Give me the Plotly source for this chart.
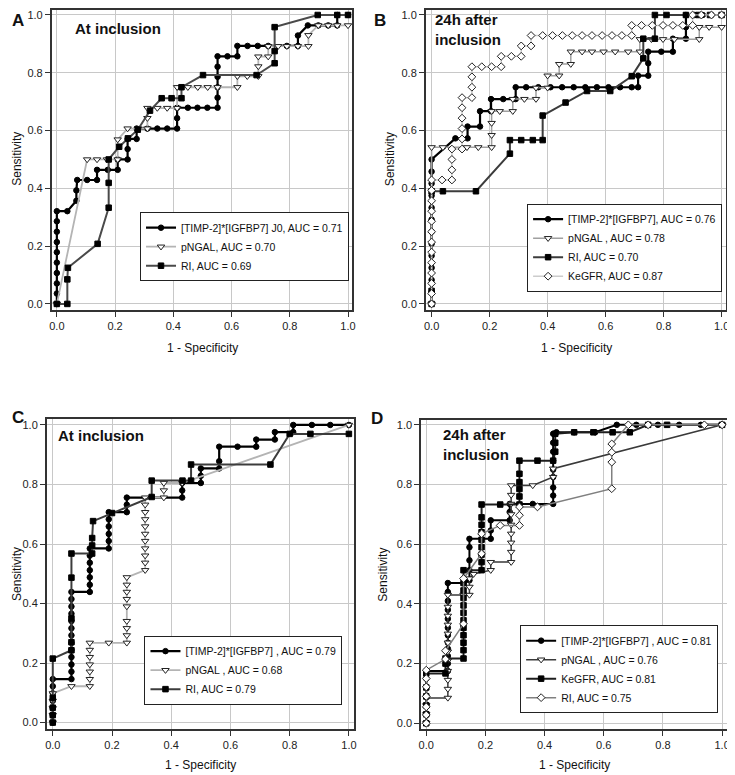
import plotly.graph_objects as go

# ---------------- Panel A : At inclusion ----------------
A_timp_fpr = [0, 0, 0, 0, 0, 0, 0, 0, 0, 0, 0.036, 0.067, 0.067, 0.07, 0.104, 0.138, 0.138, 0.175, 0.209, 0.209,
              0.243, 0.243, 0.243, 0.274, 0.274, 0.311, 0.345, 0.379, 0.413, 0.413, 0.413, 0.45, 0.483, 0.517, 0.552,
              0.552, 0.552, 0.552, 0.552, 0.552, 0.586, 0.62, 0.62, 0.655, 0.69, 0.726, 0.79, 0.828, 0.828, 0.862,
              0.898, 0.932, 0.963, 0.963, 1.0]
A_timp_tpr = [0, 0.036, 0.071, 0.107, 0.143, 0.179, 0.214, 0.25, 0.286, 0.321, 0.321, 0.357, 0.393, 0.429, 0.429,
              0.429, 0.464, 0.464, 0.464, 0.5, 0.5, 0.536, 0.571, 0.571, 0.607, 0.607, 0.607, 0.607, 0.607, 0.643,
              0.679, 0.679, 0.679, 0.679, 0.679, 0.714, 0.75, 0.786, 0.821, 0.857, 0.857, 0.857, 0.893, 0.893, 0.893,
              0.893, 0.893, 0.893, 0.929, 0.964, 0.964, 0.964, 0.964, 1.0, 1.0]
A_png_fpr = [0, 0.104, 0.138, 0.172, 0.209, 0.209, 0.243, 0.28, 0.311, 0.311, 0.311, 0.345, 0.379, 0.413, 0.413,
             0.45, 0.484, 0.518, 0.552, 0.62, 0.62, 0.654, 0.692, 0.692, 0.692, 0.726, 0.726, 0.76, 0.79, 0.828,
             0.864, 0.864, 0.898, 0.932, 0.963, 1.0]
A_png_tpr = [0, 0.5, 0.5, 0.5, 0.5, 0.569, 0.607, 0.607, 0.607, 0.643, 0.678, 0.678, 0.678, 0.678, 0.75, 0.75,
             0.75, 0.75, 0.75, 0.75, 0.788, 0.788, 0.788, 0.822, 0.856, 0.856, 0.892, 0.892, 0.892, 0.892, 0.892,
             0.93, 0.964, 0.964, 0.964, 0.964]
A_ri_fpr = [0, 0.036, 0.036, 0.038, 0.14, 0.178, 0.178, 0.178, 0.214, 0.244, 0.278, 0.32, 0.36, 0.394, 0.428,
            0.428, 0.502, 0.686, 0.748, 0.748, 0.748, 0.896, 0.963, 1.0]
A_ri_tpr = [0, 0, 0.085, 0.125, 0.208, 0.333, 0.419, 0.5, 0.544, 0.573, 0.603, 0.669, 0.712, 0.712, 0.712, 0.75,
            0.792, 0.792, 0.833, 0.875, 0.958, 1.0, 1.0, 1.0]

# ---------------- Panel B : 24h after inclusion ----------------
B_timp_fpr = [0, 0, 0, 0, 0, 0, 0, 0, 0, 0, 0, 0, 0, 0.082, 0.124, 0.124, 0.167, 0.167, 0.205, 0.205, 0.247, 0.29,
              0.29, 0.326, 0.368, 0.41, 0.45, 0.49, 0.53, 0.57, 0.61, 0.65, 0.69, 0.712, 0.712, 0.747, 0.747, 0.747,
              0.792, 0.832, 0.832, 0.877, 0.877, 0.877, 0.906, 0.935, 0.965, 1.0]
B_timp_tpr = [0, 0.042, 0.083, 0.125, 0.167, 0.208, 0.25, 0.292, 0.333, 0.375, 0.417, 0.458, 0.5, 0.573, 0.573,
              0.614, 0.614, 0.667, 0.667, 0.709, 0.709, 0.709, 0.75, 0.75, 0.75, 0.75, 0.75, 0.75, 0.75, 0.75, 0.75,
              0.75, 0.75, 0.75, 0.79, 0.79, 0.833, 0.873, 0.873, 0.873, 0.918, 0.918, 0.958, 1.0, 1.0, 1.0, 1.0, 1.0]
B_png_fpr = [0, 0, 0.039, 0.122, 0.161, 0.207, 0.207, 0.207, 0.207, 0.235, 0.28, 0.28, 0.32, 0.36, 0.36, 0.4,
             0.4, 0.44, 0.44, 0.48, 0.48, 0.519, 0.553, 0.593, 0.633, 0.678, 0.718, 0.718, 0.758, 0.798, 0.837,
             0.923, 0.923, 0.957, 1.0]
B_png_tpr = [0, 0.542, 0.542, 0.542, 0.542, 0.542, 0.584, 0.626, 0.667, 0.667, 0.667, 0.709, 0.709, 0.709, 0.748,
             0.748, 0.79, 0.79, 0.83, 0.83, 0.873, 0.873, 0.873, 0.873, 0.873, 0.873, 0.873, 0.916, 0.916, 0.916,
             0.916, 0.916, 0.958, 0.958, 0.958]
B_ri_fpr = [0, 0, 0, 0.039, 0.153, 0.27, 0.27, 0.309, 0.349, 0.383, 0.383, 0.462, 0.536, 0.616, 0.69, 0.73, 0.73,
            0.77, 0.77, 0.81, 0.877, 0.92, 0.96, 1.0]
B_ri_tpr = [0, 0.045, 0.39, 0.39, 0.39, 0.52, 0.567, 0.567, 0.567, 0.567, 0.652, 0.697, 0.737, 0.737, 0.788, 0.85,
            0.918, 0.918, 1.0, 1.0, 1.0, 1.0, 1.0, 1.0]
B_keg_fpr = [0, 0, 0, 0, 0, 0, 0, 0, 0, 0, 0, 0, 0, 0.036, 0.07, 0.07, 0.07, 0.07, 0.105, 0.105, 0.105, 0.105,
             0.105, 0.105, 0.139, 0.139, 0.139, 0.139, 0.173, 0.207, 0.24, 0.24, 0.275, 0.309, 0.309, 0.343, 0.343,
             0.383, 0.417, 0.451, 0.485, 0.519, 0.553, 0.588, 0.622, 0.656, 0.69, 0.69, 0.724, 0.761, 0.798, 0.832,
             0.866, 0.9, 0.9, 0.93, 0.965, 1.0]
B_keg_tpr = [0, 0.036, 0.071, 0.107, 0.143, 0.179, 0.214, 0.25, 0.286, 0.321, 0.357, 0.393, 0.429, 0.429, 0.429,
             0.464, 0.5, 0.536, 0.536, 0.571, 0.607, 0.643, 0.679, 0.714, 0.714, 0.75, 0.786, 0.821, 0.821, 0.821,
             0.821, 0.857, 0.857, 0.857, 0.893, 0.893, 0.929, 0.929, 0.929, 0.929, 0.929, 0.929, 0.929, 0.929,
             0.929, 0.929, 0.929, 0.964, 0.964, 0.964, 0.964, 0.964, 0.964, 0.964, 1.0, 1.0, 1.0, 1.0]

# ---------------- Panel C : At inclusion ----------------
C_timp_fpr = [0, 0, 0, 0, 0, 0, 0, 0.063, 0.063, 0.063, 0.063, 0.063, 0.063, 0.063, 0.063, 0.063, 0.063, 0.063,
              0.063, 0.063, 0.125, 0.125, 0.125, 0.125, 0.125, 0.125, 0.125, 0.189, 0.189, 0.189, 0.189, 0.189,
              0.189, 0.25, 0.25, 0.25, 0.437, 0.437, 0.437, 0.5, 0.5, 0.5, 0.562, 0.562, 0.562, 0.624, 0.687, 0.687,
              0.75, 0.75, 0.812, 0.812, 0.875, 0.937, 1.0]
C_timp_tpr = [0, 0.024, 0.049, 0.073, 0.098, 0.122, 0.146, 0.146, 0.171, 0.195, 0.22, 0.244, 0.268, 0.293, 0.317,
              0.341, 0.366, 0.39, 0.415, 0.439, 0.439, 0.463, 0.488, 0.512, 0.537, 0.561, 0.585, 0.585, 0.61, 0.634,
              0.659, 0.683, 0.707, 0.707, 0.732, 0.756, 0.756, 0.78, 0.805, 0.805, 0.829, 0.854, 0.854, 0.878,
              0.927, 0.927, 0.927, 0.951, 0.951, 0.976, 0.976, 1.0, 1.0, 1.0, 1.0]
C_png_fpr = [0, 0, 0, 0, 0, 0.063, 0.125, 0.125, 0.125, 0.125, 0.125, 0.125, 0.125, 0.189, 0.25, 0.25, 0.25, 0.25,
             0.25, 0.25, 0.25, 0.25, 0.25, 0.312, 0.312, 0.312, 0.312, 0.312, 0.312, 0.312, 0.312, 0.312, 0.312,
             0.312, 0.375, 0.375, 0.375, 0.437, 1.0]
C_png_tpr = [0, 0.025, 0.048, 0.073, 0.098, 0.122, 0.122, 0.146, 0.171, 0.195, 0.22, 0.244, 0.268, 0.268, 0.268,
             0.293, 0.317, 0.341, 0.39, 0.415, 0.439, 0.463, 0.488, 0.512, 0.537, 0.561, 0.585, 0.61, 0.634, 0.659,
             0.683, 0.707, 0.732, 0.756, 0.756, 0.78, 0.805, 0.805, 1.0]
C_ri_fpr = [0, 0, 0, 0, 0, 0.063, 0.063, 0.063, 0.063, 0.063, 0.133, 0.133, 0.133, 0.136, 0.2, 0.334, 0.334, 0.438,
            0.467, 0.467, 0.735, 0.8, 0.87, 1.0]
C_ri_tpr = [0, 0.025, 0.05, 0.083, 0.215, 0.243, 0.27, 0.35, 0.487, 0.568, 0.568, 0.595, 0.62, 0.677, 0.704, 0.758,
            0.813, 0.813, 0.813, 0.867, 0.867, 0.97, 0.97, 0.97]

# ---------------- Panel D : 24h after inclusion ----------------
D_timp_fpr = [0, 0, 0, 0, 0, 0, 0, 0.073, 0.073, 0.073, 0.073, 0.073, 0.073, 0.073, 0.073, 0.073, 0.073, 0.073,
              0.073, 0.126, 0.146, 0.146, 0.146, 0.146, 0.146, 0.218, 0.218, 0.218, 0.282, 0.282, 0.282, 0.36,
              0.429, 0.429, 0.429, 0.429, 0.429, 0.429, 0.429, 0.429, 0.429, 0.44, 0.5, 0.571, 0.644, 0.71, 0.783,
              0.855, 0.928, 1.0]
D_timp_tpr = [0, 0.03, 0.06, 0.09, 0.12, 0.15, 0.175, 0.175, 0.2, 0.225, 0.25, 0.27, 0.295, 0.32, 0.35, 0.38,
              0.41, 0.44, 0.47, 0.47, 0.479, 0.513, 0.546, 0.59, 0.618, 0.618, 0.646, 0.68, 0.68, 0.708, 0.735, 0.735,
              0.735, 0.763, 0.79, 0.825, 0.85, 0.88, 0.91, 0.94, 0.97, 0.975, 0.975, 0.975, 1.0, 1.0, 1.0, 1.0, 1.0,
              1.0]
D_png_fpr = [0, 0, 0, 0, 0.073, 0.073, 0.073, 0.073, 0.073, 0.073, 0.073, 0.073, 0.073, 0.073, 0.073, 0.073, 0.126,
             0.146, 0.146, 0.146, 0.16, 0.218, 0.218, 0.287, 0.287, 0.287, 0.287, 0.287, 0.287, 0.287, 0.287, 0.287,
             0.36, 0.429, 0.429, 1.0]
D_png_tpr = [0, 0.03, 0.06, 0.085, 0.085, 0.115, 0.145, 0.175, 0.21, 0.24, 0.27, 0.3, 0.33, 0.36, 0.39, 0.43, 0.43,
             0.43, 0.457, 0.485, 0.5, 0.513, 0.54, 0.54, 0.574, 0.605, 0.635, 0.665, 0.7, 0.735, 0.765, 0.797, 0.797,
             0.825, 0.853, 1.0]
D_keg_fpr = [0, 0, 0, 0, 0, 0, 0.065, 0.065, 0.065, 0.126, 0.126, 0.126, 0.126, 0.126, 0.126, 0.126, 0.126, 0.126,
             0.126, 0.126, 0.126, 0.187, 0.187, 0.187, 0.187, 0.187, 0.187, 0.187, 0.187, 0.187, 0.25, 0.315, 0.315,
             0.315, 0.315, 0.315, 0.315, 0.376, 0.429, 0.436, 0.436, 0.436, 0.5, 0.565, 0.63, 0.688, 0.75, 0.814, 1.0]
D_keg_tpr = [0, 0.03, 0.06, 0.09, 0.12, 0.167, 0.167, 0.2, 0.217, 0.217, 0.245, 0.27, 0.295, 0.32, 0.345, 0.37,
             0.395, 0.42, 0.445, 0.47, 0.513, 0.513, 0.54, 0.565, 0.59, 0.615, 0.64, 0.665, 0.69, 0.733, 0.733, 0.733,
             0.76, 0.785, 0.808, 0.836, 0.88, 0.88, 0.88, 0.91, 0.94, 0.97, 0.975, 0.975, 0.975, 0.975, 1.0, 1.0, 1.0]
D_ri_fpr = [0, 0, 0, 0, 0, 0, 0, 0.065, 0.065, 0.126, 0.126, 0.187, 0.187, 0.25, 0.315, 0.315, 0.315, 0.376, 0.627,
            0.627, 0.627, 0.627, 0.683, 0.75, 0.94, 1.0]
D_ri_tpr = [0, 0.028, 0.055, 0.09, 0.122, 0.15, 0.178, 0.215, 0.243, 0.333, 0.485, 0.568, 0.635, 0.663, 0.663,
            0.697, 0.725, 0.725, 0.786, 0.875, 0.908, 0.936, 1.0, 1.0, 1.0, 1.0]

tick_vals = [0.0, 0.2, 0.4, 0.6, 0.8, 1.0]
tick_text = ["0.0", "0.2", "0.4", "0.6", "0.8", "1.0"]

FONT = "Liberation Sans, Arial, sans-serif"

fig = go.Figure()


def add(xs, ys, name, ax, leg, lcolor, lwidth, symbol, mfill, msize, mline="#222222"):
    fig.add_trace(go.Scatter(
        x=xs, y=ys, name=name, mode="lines+markers",
        xaxis="x" + ax, yaxis="y" + ax, legend=leg,
        line=dict(color=lcolor, width=lwidth),
        marker=dict(symbol=symbol, color=mfill, size=msize, line=dict(color=mline, width=1)),
        cliponaxis=False, showlegend=True,
    ))


# Panel A
add(A_timp_fpr, A_timp_tpr, "[TIMP-2]*[IGFBP7] J0, AUC = 0.71", "", "legend", "#000000", 2.2, "circle", "#000000", 5.5, "#000000")
add(A_png_fpr, A_png_tpr, "pNGAL, AUC = 0.70", "", "legend", "#b4b4b4", 1.8, "triangle-down", "#ffffff", 6.5)
add(A_ri_fpr, A_ri_tpr, "RI, AUC = 0.69", "", "legend", "#4a4a4a", 2.0, "square", "#000000", 5.5, "#000000")

# Panel B
add(B_timp_fpr, B_timp_tpr, "[TIMP-2]*[IGFBP7], AUC = 0.76", "2", "legend2", "#000000", 2.2, "circle", "#000000", 5.5, "#000000")
add(B_png_fpr, B_png_tpr, "pNGAL , AUC = 0.78", "2", "legend2", "#a0a0a0", 1.5, "triangle-down", "#ffffff", 6.5)
add(B_ri_fpr, B_ri_tpr, "RI, AUC = 0.70", "2", "legend2", "#3c3c3c", 2.0, "square", "#000000", 5.5, "#000000")
add(B_keg_fpr, B_keg_tpr, "KeGFR, AUC = 0.87", "2", "legend2", "#cccccc", 1.5, "diamond", "#ffffff", 6)

# Panel C
add(C_timp_fpr, C_timp_tpr, "[TIMP-2]*[IGFBP7] , AUC = 0.79", "3", "legend3", "#000000", 2.2, "circle", "#000000", 5.5, "#000000")
add(C_png_fpr, C_png_tpr, "pNGAL , AUC = 0.68", "3", "legend3", "#b4b4b4", 1.8, "triangle-down", "#ffffff", 6.5)
add(C_ri_fpr, C_ri_tpr, "RI, AUC = 0.79", "3", "legend3", "#3c3c3c", 2.0, "square", "#000000", 5.5, "#000000")

# Panel D
add(D_timp_fpr, D_timp_tpr, "[TIMP-2]*[IGFBP7] , AUC = 0.81", "4", "legend4", "#000000", 2.0, "circle", "#000000", 5.5, "#000000")
add(D_png_fpr, D_png_tpr, "pNGAL , AUC = 0.76", "4", "legend4", "#3a3a3a", 1.5, "triangle-down", "#ffffff", 6.5)
add(D_keg_fpr, D_keg_tpr, "KeGFR, AUC = 0.81", "4", "legend4", "#1e1e1e", 2.0, "square", "#000000", 5.5, "#000000")
add(D_ri_fpr, D_ri_tpr, "RI, AUC = 0.75", "4", "legend4", "#808080", 1.5, "diamond", "#ffffff", 6)

# the page body adds an 8 px margin; the figure is sized to fill the rest of the window
OFF = 8
W, H = 735 - OFF, 775 - OFF


def fx(sx):
    return min(1.0, max(0.0, (sx - OFF) / W))


def fy(sy):
    return min(1.0, max(0.0, 1 - (sy - OFF) / H))


def px_dom(a, b):
    return [fx(a), fx(b)]


def py_dom(top, bottom):
    return [fy(bottom), fy(top)]


def axis(dom, rng, anchor):
    return dict(domain=dom, range=rng, anchor=anchor, tickvals=tick_vals, ticktext=tick_text,
                showgrid=True, gridcolor="#c8c8c8", gridwidth=1, zeroline=False,
                showline=True, linecolor="#333333", linewidth=2, mirror=True,
                ticks="outside", ticklen=5, tickcolor="#333333", tickwidth=1,
                ticklabeloverflow="allow",
                tickfont=dict(family=FONT, size=11, color="#222222"))


legend_common = dict(bgcolor="#ffffff", bordercolor="#222222", borderwidth=1,
                     font=dict(family=FONT, size=10.5, color="#111111"),
                     xanchor="right", yanchor="middle", itemwidth=30, tracegroupgap=0)

fig.update_layout(
    width=W, height=H, margin=dict(l=0, r=0, t=0, b=0),
    paper_bgcolor="#ffffff", plot_bgcolor="#ffffff",
    font=dict(family=FONT, size=11, color="#222222"),
    xaxis=axis(px_dom(49.3, 352.7), [-0.017, 1.015], "y"),
    yaxis=axis(py_dom(9, 309.3), [-0.0207, 1.0173], "x"),
    xaxis2=axis(px_dom(427, 729.5), [-0.0194, 1.0136], "y2"),
    yaxis2=axis(py_dom(9, 309.3), [-0.0207, 1.0173], "x2"),
    xaxis3=axis(px_dom(44.3, 354.3), [-0.0197, 1.0171], "y3"),
    yaxis3=axis(py_dom(418.7, 728.7), [-0.0208, 1.0195], "x3"),
    xaxis4=axis(px_dom(422.3, 731), [-0.0167, 1.0167], "y4"),
    yaxis4=axis(py_dom(419.3, 729), [-0.0194, 1.017], "x4"),
    legend=dict(x=fx(349.3), y=fy(246), **legend_common),
    legend2=dict(x=fx(726), y=fy(247), **legend_common),
    legend3=dict(x=fx(342.7), y=fy(670), **legend_common),
    legend4=dict(x=fx(722), y=fy(669), **legend_common),
)


def ann(text, x, y, size, bold=False, angle=0, xanchor="center", yanchor="middle", align="center"):
    fig.add_annotation(text=("<b>%s</b>" % text) if bold else text, x=fx(x), y=fy(y),
                       xref="paper", yref="paper", showarrow=False, textangle=angle,
                       xanchor=xanchor, yanchor=yanchor, align=align,
                       font=dict(family=FONT, size=size, color="#111111"))


# panel letters
ann("A", 15, 8, 17, bold=True, yanchor="top")
ann("B", 381, 8, 17, bold=True, yanchor="top")
ann("C", 15, 417, 17, bold=True)
ann("D", 378, 418, 17, bold=True)

# inner titles
ann("At inclusion", 71, 28, 15, bold=True, xanchor="left")
ann("24h after<br>inclusion", 434, 29, 15, bold=True, xanchor="left", align="left")
ann("At inclusion", 53, 435, 15, bold=True, xanchor="left")
ann("24h after<br>inclusion", 442, 444.5, 15, bold=True, xanchor="left", align="left")

# axis titles
ann("Sensitivity", 14, 158, 12, angle=-90)
ann("Sensitivity", 390, 158, 12, angle=-90)
ann("Sensitivity", 14, 573.7, 12, angle=-90)
ann("Sensitivity", 384, 574, 12, angle=-90)
ann("1 - Specificity", 201, 347, 12)
ann("1 - Specificity", 578.5, 347, 12)
ann("1 - Specificity", 199.3, 765, 12)
ann("1 - Specificity", 577, 765, 12)

fig.write_html("out.html")
